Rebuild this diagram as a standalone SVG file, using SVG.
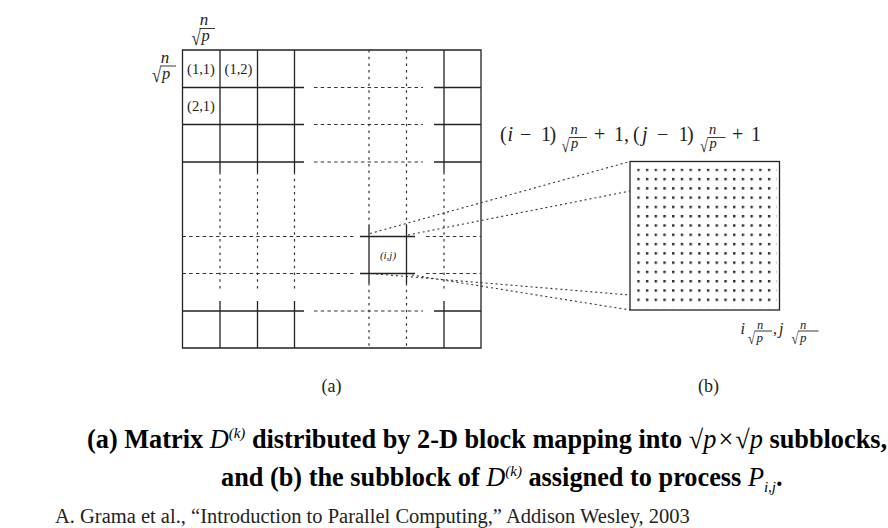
<svg xmlns="http://www.w3.org/2000/svg" width="888" height="528" viewBox="0 0 888 528">
<style>
.s{stroke:#222;stroke-width:1.3;fill:none}
.dh{stroke:#333;stroke-width:1.2;fill:none;stroke-dasharray:3.5 3.2}
.dv{stroke:#333;stroke-width:1.2;fill:none;stroke-dasharray:2.5 4.2}
.cn{stroke:#333;stroke-width:1.1;fill:none;stroke-dasharray:2 3}
.fb{stroke:#222;stroke-width:0.9}
.m{font-family:"Liberation Serif","Times New Roman",serif;fill:#222}
.it{font-style:italic}
.cap{font-family:"Liberation Serif","Times New Roman",serif;fill:#000;font-size:26.3px;font-weight:bold}
.nb{font-weight:normal}
</style>
<defs>
<pattern id="dots" patternUnits="userSpaceOnUse" x="637.2" y="168.6" width="8.713" height="9.286">
<rect x="0" y="0" width="2.4" height="2.4" fill="#2a2a2a"/>
</pattern>
</defs>
<rect width="888" height="528" fill="#fff"/>

<g id="matrix-a">
<path class="s" d="M182.5 50H481V348H182.5Z M182.5 87.5H304M434 87.5H481M182.5 124.5H304M434 124.5H481M182.5 162H304M434 162H481 M220 50V172M257.5 50V172M294.5 50V172M444 50V172 M182.5 311H304M434 311H481 M220 301V348M257.5 301V348M294.5 301V348M444 301V348"/>
<path class="dh" d="M314 87.5H423M314 124.5H423M314 162H423M314 311H423 M182.5 236.5H356M426 236.5H481M182.5 273.5H356M426 273.5H481"/>
<path class="dv" d="M369 50V225M369 283V348M406.5 50V225M406.5 283V348 M220 172V291M257.5 172V291M294.5 172V291M444 172V291"/>
<text class="m" x="201" y="73.5" font-size="14.5" text-anchor="middle">(1,1)</text>
<text class="m" x="238.5" y="73.5" font-size="14.5" text-anchor="middle">(1,2)</text>
<text class="m" x="201" y="110.5" font-size="14.5" text-anchor="middle">(2,1)</text>
</g>

<g id="block-ij">
<path class="s" d="M360 236.5H415M360 273.5H415M369 225V283M406.5 225V283"/>
<text class="m it" x="388" y="259" font-size="11" text-anchor="middle">(i,j)</text>
</g>

<g id="subblock-b">
<rect x="630" y="161.5" width="149.5" height="148.5" class="s"/>
<rect x="637.2" y="168.6" width="139.4" height="139.3" fill="url(#dots)"/>
</g>

<g id="connectors">
<path class="cn" d="M370 233.5L630 161.5 M408 235L630 191 M376 274L630 295 M412 275L630 310"/>
</g>

<g id="labels">
<g id="lbl-top">
<text class="m it" x="204" y="25" font-size="17" text-anchor="middle">n</text>
<line class="fb" x1="199.5" y1="28.5" x2="215" y2="28.5"/>
<text class="m" font-size="21" transform="translate(191.5,44.5) scale(0.8,1)">√</text>
<text class="m it" x="201.5" y="41" font-size="16.5">p</text>
</g>
<g id="lbl-left">
<text class="m it" x="165" y="62.5" font-size="17" text-anchor="middle">n</text>
<line class="fb" x1="160.5" y1="66" x2="176" y2="66"/>
<text class="m" font-size="21" transform="translate(152,81.5) scale(0.8,1)">√</text>
<text class="m it" x="162" y="78.5" font-size="16.5">p</text>
</g>
<g id="lbl-formula">
<text class="m" y="141" font-size="20"><tspan x="500">(</tspan><tspan x="507.5" class="it">i</tspan><tspan x="520">−</tspan><tspan x="541">1</tspan><tspan x="549.5">)</tspan><tspan x="594">+</tspan><tspan x="614">1,</tspan><tspan x="633">(</tspan><tspan x="642" class="it">j</tspan><tspan x="657">−</tspan><tspan x="678.5">1</tspan><tspan x="687">)</tspan><tspan x="732">+</tspan><tspan x="751">1</tspan></text>
<text class="m it" x="574" y="134" font-size="14.5" text-anchor="middle">n</text>
<line class="fb" x1="569" y1="137.5" x2="587" y2="137.5"/>
<text class="m" font-size="18" transform="translate(561.5,151.5) scale(0.8,1)">√</text>
<text class="m it" x="571" y="148" font-size="14.5">p</text>
<text class="m it" x="712.5" y="134" font-size="14.5" text-anchor="middle">n</text>
<line class="fb" x1="707.5" y1="137.5" x2="725.5" y2="137.5"/>
<text class="m" font-size="18" transform="translate(700,151.5) scale(0.8,1)">√</text>
<text class="m it" x="709.5" y="148" font-size="14.5">p</text>
</g>
<g id="lbl-corner">
<text class="m it" y="334" font-size="16"><tspan x="740.5">i</tspan><tspan x="773" font-style="normal">,</tspan><tspan x="779">j</tspan></text>
<text class="m it" x="760" y="328.5" font-size="12.5" text-anchor="middle">n</text>
<line class="fb" x1="754.5" y1="331" x2="772" y2="331"/>
<text class="m" font-size="16" transform="translate(748,343.5) scale(0.8,1)">√</text>
<text class="m it" x="756.5" y="341.5" font-size="13">p</text>
<text class="m it" x="803" y="328.5" font-size="12.5" text-anchor="middle">n</text>
<line class="fb" x1="798" y1="331" x2="818.5" y2="331"/>
<text class="m" font-size="16" transform="translate(791.5,343.5) scale(0.8,1)">√</text>
<text class="m it" x="800" y="341.5" font-size="13">p</text>
</g>
<text class="m" x="321.5" y="392" font-size="18">(a)</text>
<text class="m" x="698" y="392" font-size="18">(b)</text>
</g>

<g id="caption">
<text class="cap" x="87" y="448" font-size="26">(a) Matrix <tspan class="it nb">D</tspan><tspan class="it nb" font-size="15" dy="-10">(k)</tspan><tspan dy="10"> distributed by 2-D block mapping into </tspan><tspan class="nb">√</tspan><tspan class="it nb">p</tspan><tspan class="nb" dx="2">×</tspan><tspan class="nb" dx="2">√</tspan><tspan class="it nb">p</tspan> subblocks,</text>
<text class="cap" x="221" y="486">and (b) the subblock of <tspan class="it nb">D</tspan><tspan class="it nb" font-size="15" dy="-10">(k)</tspan><tspan dy="10"> assigned to process </tspan><tspan class="it nb">P</tspan><tspan class="it nb" font-size="15" dy="6">i,j</tspan><tspan dy="-6">.</tspan></text>
<text class="m" x="55" y="523" font-size="20.5" fill="#000">A. Grama et al., “Introduction to Parallel Computing,” Addison Wesley, 2003</text>
</g>
</svg>
